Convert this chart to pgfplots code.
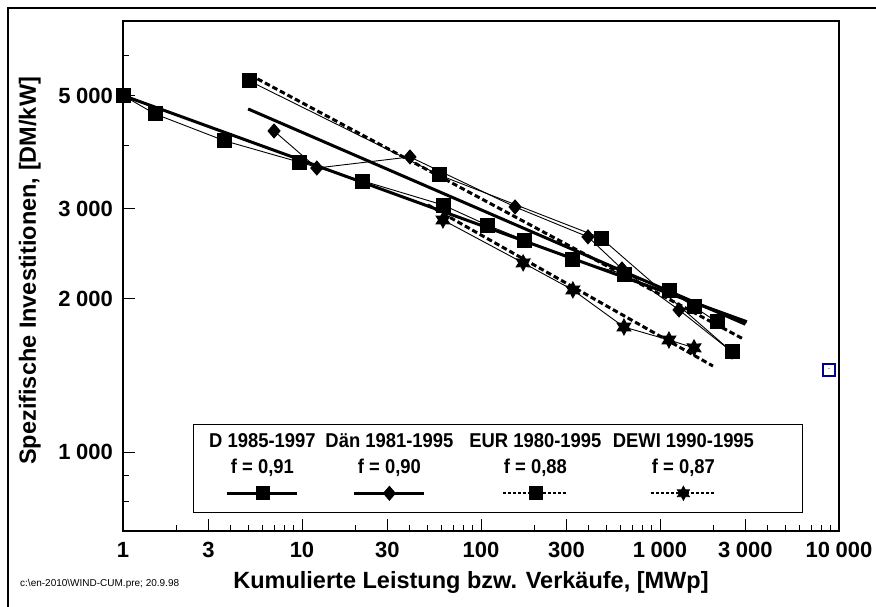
\documentclass[border=0pt]{standalone}
\usepackage{fontspec}
\setmainfont{Liberation Sans}
\newfontfamily\legfam[FakeStretch=0.92]{Liberation Sans}
\usepackage{pgfplots}
\pgfplotsset{compat=1.18}
\pgfdeclareplotmark{star6}{%
  \pgfpathmoveto{\pgfqpointpolar{90}{\pgfplotmarksize}}%
  \pgfpathlineto{\pgfqpointpolar{120}{0.55\pgfplotmarksize}}%
  \pgfpathlineto{\pgfqpointpolar{150}{\pgfplotmarksize}}%
  \pgfpathlineto{\pgfqpointpolar{180}{0.55\pgfplotmarksize}}%
  \pgfpathlineto{\pgfqpointpolar{210}{\pgfplotmarksize}}%
  \pgfpathlineto{\pgfqpointpolar{240}{0.55\pgfplotmarksize}}%
  \pgfpathlineto{\pgfqpointpolar{270}{\pgfplotmarksize}}%
  \pgfpathlineto{\pgfqpointpolar{300}{0.55\pgfplotmarksize}}%
  \pgfpathlineto{\pgfqpointpolar{330}{\pgfplotmarksize}}%
  \pgfpathlineto{\pgfqpointpolar{0}{0.55\pgfplotmarksize}}%
  \pgfpathlineto{\pgfqpointpolar{30}{\pgfplotmarksize}}%
  \pgfpathlineto{\pgfqpointpolar{60}{0.55\pgfplotmarksize}}%
  \pgfpathclose
  \pgfusepathqfillstroke
}
\definecolor{navyb}{RGB}{0,0,140}
\newcommand{\lgfont}{\legfam\bfseries\fontsize{20}{22}\selectfont}
\newcommand{\thsp}{\kern0.25em}
\begin{document}
\begin{tikzpicture}
\useasboundingbox (0pt,0pt) rectangle (876pt,607pt);
\draw[line width=1.3pt] (8pt,0pt) -- (8pt,599pt) -- (876pt,599pt);
\begin{axis}[
  at={(123pt,76pt)}, anchor=south west,
  scale only axis, width=716pt, height=510pt,
  xmode=log, ymode=log,
  xmin=1, xmax=10000, ymin=700, ymax=7000,
  clip=false,
  axis line style={line width=1.1pt},
  tick align=inside,
  xtick pos=left, ytick pos=left,
  major tick length=12pt, minor tick length=6pt,
  tick style={black, line width=0.8pt},
  xtick={1,3,10,30,100,300,1000,3000,10000},
  xticklabels={1,3,10,30,100,300,1\thsp000,3\thsp000,10\thsp000},
  minor xtick={2,4,5,6,7,8,9,20,40,50,60,70,80,90,200,400,500,600,700,800,900,2000,4000,5000,6000,7000,8000,9000},
  ytick={1000,2000,3000,5000},
  yticklabels={1\thsp000,2\thsp000,3\thsp000,5\thsp000},
  minor ytick={800,900,4000,6000},
  /pgf/number format/assume math mode=true,
  tick label style={font=\bfseries\fontsize{22}{26}\selectfont},
  xticklabel style={anchor=north, inner sep=0pt, yshift=-11pt},
  yticklabel style={anchor=east, inner sep=0pt, xshift=-10pt},
  xlabel={Kumulierte Leistung bzw. Verkäufe, [MWp]},
  ylabel={Spezifische Investitionen, [DM/kW]},
  label style={font=\bfseries\fontsize{23.5}{27}\selectfont},
  xlabel style={at={(axis description cs:0.486,-0.1)}, anchor=center},
  ylabel style={at={(axis description cs:-0.13,0.51)}, anchor=center, rotate=0},
  legend columns=4,
  legend style={at={(axis description cs:0.0978,0.21)}, anchor=north west,
    draw=black, line width=0.8pt, inner sep=0pt, column sep=0pt,
    nodes={inner sep=0pt, draw=none}, font=\lgfont},
]
% D 1985-1997 data
\addplot[black, line width=0.9pt, mark=square*, mark size=7pt, forget plot] coordinates {
(1,5000) (1.51,4600) (3.71,4073) (9.62,3703) (21.9,3399) (61.3,3050) (108,2786)
(174,2604) (326,2380) (629,2233) (1122,2078) (1549,1925) (2081,1799)};
\addplot[black, line width=3pt, forget plot] coordinates {(1,5000) (3060,1800)};
% Daen 1981-1995 data
\addplot[black, line width=0.9pt, mark=diamond*, mark size=7pt, mark options={xscale=1.15}, forget plot] coordinates {
(6.98,4260) (12.1,3604) (40.1,3789) (155,3023) (396,2641) (613,2285) (1277,1899) (2525,1571)};
\addplot[black, line width=3pt, forget plot] coordinates {(5,4705) (3000,1780)};
% EUR 1980-1995 data
\addplot[black, line width=0.9pt, mark=square*, mark size=7pt, forget plot] coordinates {
(5.06,5343) (58.3,3493) (468,2628) (2525,1571)};
\addplot[black, line width=3pt, dash pattern=on 5.5pt off 3pt, forget plot] coordinates {(5.12,5488) (2924,1665)};
% DEWI 1990-1995 data
\addplot[black, line width=0.9pt, mark=star6, mark size=8pt, forget plot] coordinates {
(61.3,2850) (172,2348) (326,2078) (629,1758) (1122,1658) (1549,1600)};
\addplot[black, line width=3pt, dash pattern=on 5.5pt off 3pt, forget plot] coordinates {(50.5,3050) (1976,1474)};

\addlegendimage{legend image code/.code={
  \path[draw=none, fill=none] (-69pt,-19pt) rectangle (60pt,69pt);
  \node[anchor=base, font=\lgfont, inner sep=0pt, draw=none] at (0pt,46pt) {D 1985-1997};
  \node[anchor=base, font=\lgfont, inner sep=0pt, draw=none] at (0pt,20pt) {f = 0,91};
  \draw[line width=2.8pt] (-35pt,0pt) -- (35pt,0pt);
  \fill (-6.5pt,-6.5pt) rectangle (6.5pt,6.5pt);
}}
\addlegendentry{\mbox{}}
\addlegendimage{legend image code/.code={
  \path[draw=none, fill=none] (-66pt,-19pt) rectangle (70pt,69pt);
  \node[anchor=base, font=\lgfont, inner sep=0pt, draw=none] at (0pt,46pt) {Dän 1981-1995};
  \node[anchor=base, font=\lgfont, inner sep=0pt, draw=none] at (0pt,20pt) {f = 0,90};
  \draw[line width=2.8pt] (-35pt,0pt) -- (35pt,0pt);
  \fill (0pt,7pt) -- (6pt,0pt) -- (0pt,-7pt) -- (-6pt,0pt) -- cycle;
}}
\addlegendentry{\mbox{}}
\addlegendimage{legend image code/.code={
  \path[draw=none, fill=none] (-75pt,-19pt) rectangle (72pt,69pt);
  \node[anchor=base, font=\lgfont, inner sep=0pt, draw=none] at (0pt,46pt) {EUR 1980-1995};
  \node[anchor=base, font=\lgfont, inner sep=0pt, draw=none] at (0pt,20pt) {f = 0,88};
  \draw[line width=2pt, dash pattern=on 3pt off 2pt] (-32pt,0pt) -- (32pt,0pt);
  \fill (-6.5pt,-6.5pt) rectangle (6.5pt,6.5pt);
}}
\addlegendentry{\mbox{}}
\addlegendimage{legend image code/.code={
  \path[draw=none, fill=none] (-75pt,-19pt) rectangle (118pt,69pt);
  \node[anchor=base, font=\lgfont, inner sep=0pt, draw=none] at (0pt,46pt) {DEWI 1990-1995};
  \node[anchor=base, font=\lgfont, inner sep=0pt, draw=none] at (0pt,20pt) {f = 0,87};
  \draw[line width=2pt, dash pattern=on 3pt off 2pt] (-32pt,0pt) -- (32pt,0pt);
  \fill (90:7pt) -- (120:3.9pt) -- (150:7pt) -- (180:3.9pt) -- (210:7pt) -- (240:3.9pt)
     -- (270:7pt) -- (300:3.9pt) -- (330:7pt) -- (0:3.9pt) -- (30:7pt) -- (60:3.9pt) -- cycle;
}}
\addlegendentry{\mbox{}}
\end{axis}
\node[anchor=west, font=\fontsize{10}{11}\selectfont, inner sep=0pt] at (20pt,23pt)
  {c:\textbackslash en-2010\textbackslash WIND-CUM.pre; 20.9.98};
\node[draw=navyb, line width=1.3pt, minimum size=12pt, inner sep=0pt,
  font=\fontsize{6}{6}\selectfont] at (829pt,237pt) {-};
\end{tikzpicture}
\end{document}
